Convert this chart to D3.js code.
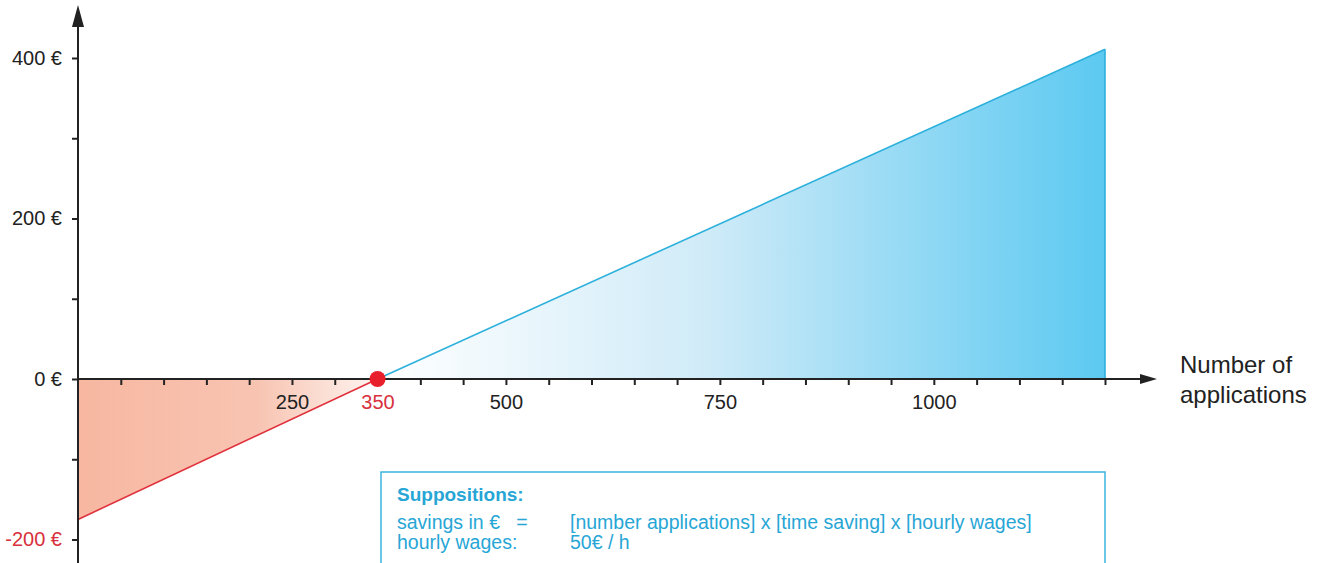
<!DOCTYPE html>
<html>
<head>
<meta charset="utf-8">
<script src="https://cdn.jsdelivr.net/npm/d3@7"></script>
<style>
  body { margin: 0; background: #fff; }
  text { font-family: "Liberation Sans", Arial, sans-serif; }
</style>
</head>
<body>
<script>
// break-even chart data
var apps = [0, 350, 1200];
var savings = [-175, 0, 411];
var xMinorTicks = d3.range(50, 1201, 50);
var xLabels = [250, 350, 500, 750, 1000];
var yMinorTicks = [-200, -100, 0, 100, 200, 300, 400];
var yLabels = [-200, 0, 200, 400];
var noteRows = [
  ["savings in \u20ac\u00a0\u00a0\u00a0=", "[number applications] x [time saving] x [hourly wages]"],
  ["hourly wages:", "50\u20ac / h"]
];

var W = 1320, H = 563;
var svg = d3.select("body").append("svg").attr("width", W).attr("height", H);

var x = d3.scaleLinear().domain([0, 1200]).range([78, 1105]);
var y = d3.scaleLinear().domain([-200, 400]).range([539.5, 58]);

var defs = svg.append("defs");
var gBlue = defs.append("linearGradient").attr("id", "gBlue")
  .attr("gradientUnits", "userSpaceOnUse")
  .attr("x1", x(350)).attr("x2", x(1200)).attr("y1", 0).attr("y2", 0);
gBlue.append("stop").attr("offset", "0").attr("stop-color", "#ffffff");
gBlue.append("stop").attr("offset", "0.45").attr("stop-color", "#d0ebf8");
gBlue.append("stop").attr("offset", "1").attr("stop-color", "#5cc9f1");

var gRed = defs.append("linearGradient").attr("id", "gRed")
  .attr("gradientUnits", "userSpaceOnUse")
  .attr("x1", x(0)).attr("x2", x(350)).attr("y1", 0).attr("y2", 0);
gRed.append("stop").attr("offset", "0").attr("stop-color", "#f7b7a1");
gRed.append("stop").attr("offset", "0.6").attr("stop-color", "#f8c4b2");
gRed.append("stop").attr("offset", "1").attr("stop-color", "#fef4f0");

var area = d3.area().x(function(d) { return x(d[0]); })
  .y0(y(0)).y1(function(d) { return y(d[1]); });
var line = d3.line().x(function(d) { return x(d[0]); }).y(function(d) { return y(d[1]); });

var pts = apps.map(function(a, i) { return [a, savings[i]]; });
var neg = pts.slice(0, 2), pos = pts.slice(1);

svg.append("path").datum(neg).attr("d", area).attr("fill", "url(#gRed)");
svg.append("path").datum(pos).attr("d", area).attr("fill", "url(#gBlue)");
svg.append("path").datum(neg).attr("d", line).attr("fill", "none")
  .attr("stroke", "#e0313c").attr("stroke-width", 1.6);
svg.append("path").datum(pos).attr("d", line).attr("fill", "none")
  .attr("stroke", "#2cb0dc").attr("stroke-width", 1.6);
svg.append("line").attr("x1", x(1200)).attr("x2", x(1200))
  .attr("y1", y(savings[2])).attr("y2", y(0))
  .attr("stroke", "#2cb0dc").attr("stroke-width", 1.6);

// note box
var box = svg.append("g");
box.append("rect").attr("x", 381).attr("y", 472).attr("width", 724).attr("height", 140)
  .attr("fill", "#fff").attr("stroke", "#3ab5de").attr("stroke-width", 1.5);
box.append("text").attr("x", 397).attr("y", 501).attr("fill", "#27a6d6")
  .attr("font-size", 19).attr("font-weight", "bold").text("Suppositions:");
noteRows.forEach(function(r, i) {
  box.append("text").attr("x", 397).attr("y", 529 + i * 20).attr("fill", "#27a6d6")
    .attr("font-size", 19.5).text(r[0]);
  box.append("text").attr("x", 570).attr("y", 529 + i * 20).attr("fill", "#27a6d6")
    .attr("font-size", 19.5).text(r[1]);
});

// axes
var axisColor = "#222";
var xAxis = svg.append("g").attr("transform", "translate(0," + y(0) + ")")
  .call(d3.axisBottom(x).tickValues(xMinorTicks).tickSize(6).tickPadding(10)
    .tickFormat(function(d) { return xLabels.indexOf(d) >= 0 ? d : ""; }));
xAxis.select(".domain").remove();
xAxis.selectAll(".tick line").attr("stroke", axisColor).attr("stroke-width", 2);
xAxis.selectAll(".tick text").attr("font-size", 20).attr("font-family", "Liberation Sans, Arial, sans-serif")
  .attr("fill", function(d) { return d === 350 ? "#d8303c" : "#222"; });

var yAxis = svg.append("g").attr("transform", "translate(" + x(0) + ",0)")
  .call(d3.axisLeft(y).tickValues(yMinorTicks).tickSize(6).tickPadding(10)
    .tickFormat(function(d) { return yLabels.indexOf(d) >= 0 ? d + " \u20ac" : ""; }));
yAxis.select(".domain").remove();
yAxis.selectAll(".tick line").attr("stroke", axisColor).attr("stroke-width", 2);
yAxis.selectAll(".tick text").attr("font-size", 20).attr("font-family", "Liberation Sans, Arial, sans-serif")
  .attr("fill", function(d) { return d < 0 ? "#d8303c" : "#222"; });

svg.append("line").attr("x1", x(0)).attr("x2", 1145).attr("y1", y(0)).attr("y2", y(0))
  .attr("stroke", axisColor).attr("stroke-width", 2);
svg.append("path").attr("d", "M1140," + (y(0) - 5) + "L1157," + y(0) + "L1140," + (y(0) + 5) + "Z")
  .attr("fill", axisColor);
svg.append("line").attr("x1", x(0)).attr("x2", x(0)).attr("y1", H).attr("y2", 22)
  .attr("stroke", axisColor).attr("stroke-width", 2);
svg.append("path").attr("d", "M" + (x(0) - 6) + ",27L" + x(0) + ",5L" + (x(0) + 6) + ",27Z")
  .attr("fill", axisColor);

// break-even dot
svg.append("circle").attr("cx", x(350)).attr("cy", y(0)).attr("r", 8).attr("fill", "#e8202b");

// axis title
var title = svg.append("text").attr("x", 1180).attr("y", 373).attr("font-size", 24).attr("fill", "#222");
title.append("tspan").attr("x", 1180).text("Number of");
title.append("tspan").attr("x", 1180).attr("dy", 30).text("applications");
</script>
</body>
</html>
